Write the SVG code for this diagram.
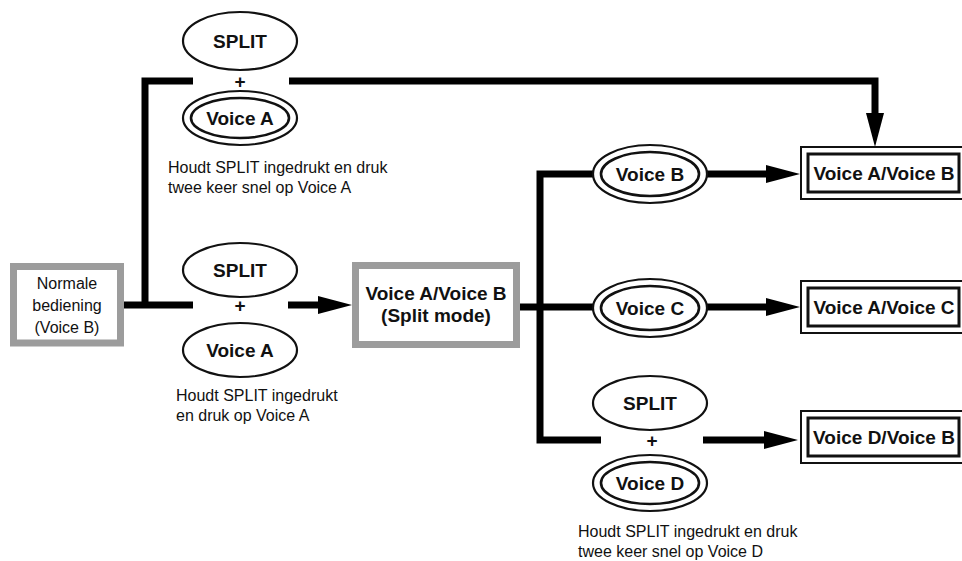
<svg xmlns="http://www.w3.org/2000/svg" width="962" height="561" viewBox="0 0 962 561">
<style>
text{font-family:"Liberation Sans",Arial,sans-serif;fill:#111}
.b{font-weight:bold;font-size:19px;text-anchor:middle}
.r{font-size:16px}
.rc{font-size:16px;text-anchor:middle}
.plus{font-weight:bold;font-size:19px;text-anchor:middle}
.el{fill:#fff;stroke:#111;stroke-width:2.2}
.eli{fill:#fff;stroke:#111;stroke-width:2.6}
.gbox{fill:#fff;stroke:#9c9c9c;stroke-width:7}
.ob{fill:#fff;stroke:#111;stroke-width:2}
.ib{fill:#fff;stroke:#111;stroke-width:3}
.c{fill:none;stroke:#000;stroke-width:7;stroke-linejoin:miter;stroke-linecap:butt}
</style>
<defs>
<marker id="ah" markerUnits="userSpaceOnUse" markerWidth="34" markerHeight="18" refX="4" refY="9" orient="auto" viewBox="0 0 34 18">
<path d="M0,0 L34,9 L0,18 z" fill="#000"/>
</marker>
</defs>
<rect width="962" height="561" fill="#fff"/>
<g id="connectors">
<path class="c" d="M124,305 H193"/>
<path class="c" d="M145,305 V81 H193"/>
<path class="c" d="M289,81 H875 V117" marker-end="url(#ah)"/>
<path class="c" d="M288,305 H322" marker-end="url(#ah)"/>
<path class="c" d="M520,307 H594"/>
<path class="c" d="M594,174 H540 V440 H601"/>
<path class="c" d="M707,174 H770" marker-end="url(#ah)"/>
<path class="c" d="M707,307 H770" marker-end="url(#ah)"/>
<path class="c" d="M703,440 H768" marker-end="url(#ah)"/>
</g>
<g id="normale">
<rect class="gbox" x="13.5" y="266.5" width="107" height="76.5"/>
<text class="rc" x="67" y="289">Normale</text>
<text class="rc" x="67" y="311">bediening</text>
<text class="rc" x="67" y="333">(Voice B)</text>
</g>
<g id="split-top">
<ellipse class="el" cx="240" cy="41" rx="57" ry="29"/>
<text class="b" x="240" y="48">SPLIT</text>
<text class="plus" x="240" y="88">+</text>
</g>
<g id="voiceA-top">
<ellipse class="el" cx="240" cy="118" rx="57" ry="27"/>
<ellipse class="eli" cx="240" cy="118" rx="49" ry="20"/>
<text class="b" x="240" y="125">Voice A</text>
<text class="r" x="168" y="173">Houdt SPLIT ingedrukt en druk</text>
<text class="r" x="168" y="193">twee keer snel op Voice A</text>
</g>
<g id="split-mid">
<ellipse class="el" cx="240" cy="270" rx="57" ry="27"/>
<text class="b" x="240" y="277">SPLIT</text>
<text class="plus" x="240" y="312">+</text>
</g>
<g id="voiceA-mid">
<ellipse class="el" cx="240" cy="350" rx="57" ry="27"/>
<text class="b" x="240" y="357">Voice A</text>
<text class="r" x="176" y="401">Houdt SPLIT ingedrukt</text>
<text class="r" x="176" y="421">en druk op Voice A</text>
</g>
<g id="splitmode">
<rect class="gbox" x="355.5" y="265.5" width="161" height="79"/>
<text class="b" x="436" y="300">Voice A/Voice B</text>
<text class="b" x="436" y="322">(Split mode)</text>
</g>
<g id="voiceB">
<ellipse class="el" cx="650" cy="174" rx="57" ry="29"/>
<ellipse class="eli" cx="650" cy="174" rx="49" ry="22"/>
<text class="b" x="650" y="181">Voice B</text>
</g>
<g id="voiceC">
<ellipse class="el" cx="650" cy="308" rx="57" ry="29"/>
<ellipse class="eli" cx="650" cy="308" rx="49" ry="22"/>
<text class="b" x="650" y="315">Voice C</text>
</g>
<g id="split-bot">
<ellipse class="el" cx="650" cy="403" rx="57" ry="27"/>
<text class="b" x="650" y="410">SPLIT</text>
<text class="plus" x="652" y="447">+</text>
</g>
<g id="voiceD">
<ellipse class="el" cx="650" cy="483" rx="57" ry="28"/>
<ellipse class="eli" cx="650" cy="483" rx="49" ry="21"/>
<text class="b" x="650" y="490">Voice D</text>
<text class="r" x="578" y="537">Houdt SPLIT ingedrukt en druk</text>
<text class="r" x="578" y="557">twee keer snel op Voice D</text>
</g>
<g id="res-AB">
<rect class="ob" x="801" y="147" width="170" height="52"/>
<rect class="ib" x="808" y="154" width="151" height="38"/>
<text class="b" x="884" y="180">Voice A/Voice B</text>
</g>
<g id="res-AC">
<rect class="ob" x="801" y="281" width="170" height="52"/>
<rect class="ib" x="808" y="288" width="151" height="38"/>
<text class="b" x="884" y="314">Voice A/Voice C</text>
</g>
<g id="res-DB">
<rect class="ob" x="801" y="411" width="170" height="52"/>
<rect class="ib" x="808" y="418" width="151" height="38"/>
<text class="b" x="884" y="444">Voice D/Voice B</text>
</g>
</svg>
